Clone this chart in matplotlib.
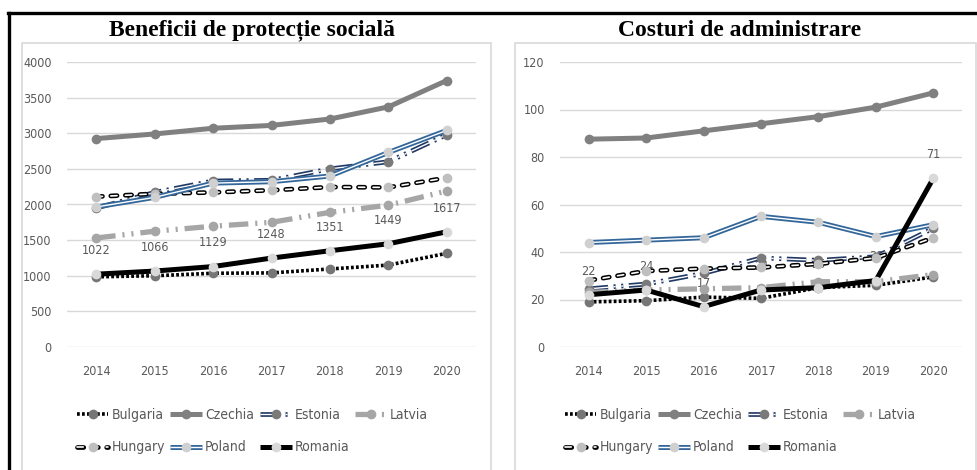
import matplotlib
matplotlib.use("Agg")
import matplotlib.pyplot as plt
import matplotlib.patheffects as pe
from matplotlib.legend_handler import HandlerTuple
from matplotlib.lines import Line2D
from matplotlib.patches import Rectangle
from matplotlib import font_manager as fm

plt.rcParams['lines.scale_dashes'] = False
NARROW = ['DejaVu Sans']
tick_fp = fm.FontProperties(family=NARROW, stretch='condensed', size=9)
leg_fp = fm.FontProperties(family=NARROW, stretch='condensed', size=10)

years = [2014, 2015, 2016, 2017, 2018, 2019, 2020]
countries = ['Bulgaria', 'Czechia', 'Estonia', 'Latvia', 'Hungary', 'Poland', 'Romania']

# Beneficii de protectie sociala
ben_bulgaria = [985, 1000, 1035, 1040, 1095, 1150, 1315]
ben_czechia = [2925, 2990, 3070, 3110, 3200, 3370, 3740]
ben_estonia = [1950, 2170, 2330, 2340, 2500, 2600, 2980]
ben_latvia = [1530, 1625, 1695, 1750, 1890, 1990, 2190]
ben_hungary = [2110, 2150, 2170, 2200, 2245, 2240, 2375]
ben_poland = [1965, 2100, 2300, 2320, 2400, 2730, 3040]
ben_romania = [1022, 1066, 1129, 1248, 1351, 1449, 1617]

# Costuri de administrare
cost_bulgaria = [19, 19.5, 21, 20.5, 25, 26, 29.5]
cost_czechia = [87.5, 88, 91, 94, 97, 101, 107]
cost_estonia = [24.5, 26.5, 31, 37.5, 36.5, 38, 50]
cost_latvia = [23, 24, 24.5, 25, 27.5, 27.5, 30.5]
cost_hungary = [28, 32, 33, 33.5, 35, 37.5, 46]
cost_poland = [44, 45, 46, 55, 52.5, 46.5, 51.5]
cost_romania = [22, 24, 17, 24, 25, 28, 71]

ben = [ben_bulgaria, ben_czechia, ben_estonia, ben_latvia, ben_hungary, ben_poland, ben_romania]
cost = [cost_bulgaria, cost_czechia, cost_estonia, cost_latvia, cost_hungary, cost_poland, cost_romania]

# line styling per series: (line kwargs, marker colour)
styles = {
    'Bulgaria': (dict(color='black', lw=2.6, dashes=(2, 1.6)), '#767676'),
    'Czechia': (dict(color='#808080', lw=3.6), '#808080'),
    'Estonia': (dict(color='white', lw=1.0, dashes=(14, 4, 1.5, 4, 1.5, 4),
                     path_effects=[pe.Stroke(linewidth=3.4, foreground='#203864'), pe.Normal()]), '#7a7a7a'),
    'Latvia': (dict(color='#a6a6a6', lw=3.8, dashes=(14, 5, 1.5, 5, 1.5, 5)), '#a6a6a6'),
    'Hungary': (dict(color='white', lw=1.2, dashes=(4.5, 6), dash_capstyle='round',
                     path_effects=[pe.Stroke(linewidth=3.4, foreground='black'), pe.Normal()]), '#bfbfbf'),
    'Poland': (dict(color='white', lw=1.0, path_effects=[pe.Stroke(linewidth=3.6, foreground='#33679a'), pe.Normal()]), '#d0d0d0'),
    'Romania': (dict(color='black', lw=3.6), '#d9d9d9'),
}

fig = plt.figure(figsize=(9.78, 4.70), dpi=100)

W, H = 978, 470
def ax_rect(x0, x1, ytop, ybot):
    return [x0 / W, 1 - ybot / H, (x1 - x0) / W, (ybot - ytop) / H]

ax1 = fig.add_axes(ax_rect(67, 476, 62, 347))
ax2 = fig.add_axes(ax_rect(560, 962, 62, 347))

# panel frames and outer border
for x0, x1 in [(22, 491), (515, 976)]:
    fig.add_artist(Rectangle((x0 / W, -0.05), (x1 - x0) / W, 1.05 - 43 / H, transform=fig.transFigure,
                             fill=False, edgecolor='#d9d9d9', lw=1.2, zorder=0))
fig.add_artist(Line2D([8 / W, 1], [1 - 13 / H, 1 - 13 / H], transform=fig.transFigure, color='black', lw=2.4))
fig.add_artist(Line2D([8.5 / W, 8.5 / W], [0, 1 - 13 / H], transform=fig.transFigure, color='black', lw=2.4))

fig.text(252 / W, 1 - 30 / H, 'Beneficii de protecție socială', ha='center', va='center',
         fontsize=17, fontweight='bold', family=['Liberation Serif', 'DejaVu Serif'])
fig.text(740 / W, 1 - 30 / H, 'Costuri de administrare', ha='center', va='center',
         fontsize=17, fontweight='bold', family=['Liberation Serif', 'DejaVu Serif'])


def draw(ax, data, ymax, ystep, legend_x):
    handles = []
    for i, name in enumerate(countries):
        kw, mcol = styles[name]
        ln, = ax.plot(years, data[i], zorder=3 + i, solid_capstyle='butt', **kw)
        mk, = ax.plot(years, data[i], ls='none', marker='o', ms=7, mfc=mcol, mec=mcol, mew=0, zorder=3 + i)
        handles.append((ln, mk))
    # Romania data labels
    for x, v in zip(years, data[-1]):
        ax.annotate(f'{v:g}', (x, v), xytext=(0, 17), textcoords='offset points', ha='center', va='center',
                    fontproperties=tick_fp, color='#595959', zorder=2)
    ax.set_xlim(2013.5, 2020.5)
    ax.set_ylim(0, ymax)
    ax.set_yticks(range(0, ymax + 1, ystep))
    ax.set_xticks(years)
    ax.grid(axis='y', color='#d9d9d9', lw=1)
    ax.set_axisbelow(True)
    for s in ax.spines.values():
        s.set_visible(False)
    ax.tick_params(length=0, labelcolor='#595959')
    ax.tick_params(axis='y', pad=11)
    ax.tick_params(axis='x', pad=13)
    for lab in ax.get_xticklabels() + ax.get_yticklabels():
        lab.set_fontproperties(tick_fp)
    order = [0, 4, 1, 5, 2, 6, 3]
    leg = ax.legend([handles[k] for k in order], [countries[k] for k in order],
                    handler_map={tuple: HandlerTuple(ndivide=1)}, ncol=4, frameon=False,
                    loc='center', bbox_to_anchor=(legend_x, 1 - 431 / H), bbox_transform=fig.transFigure,
                    handlelength=2.3, handletextpad=0.2, columnspacing=0.4, labelspacing=1.35,
                    numpoints=1, prop=leg_fp)
    for t in leg.get_texts():
        t.set_color('#595959')


draw(ax1, ben, 4000, 500, 252 / W)
draw(ax2, cost, 120, 20, 740 / W)

fig.savefig('out.png', dpi=100)
